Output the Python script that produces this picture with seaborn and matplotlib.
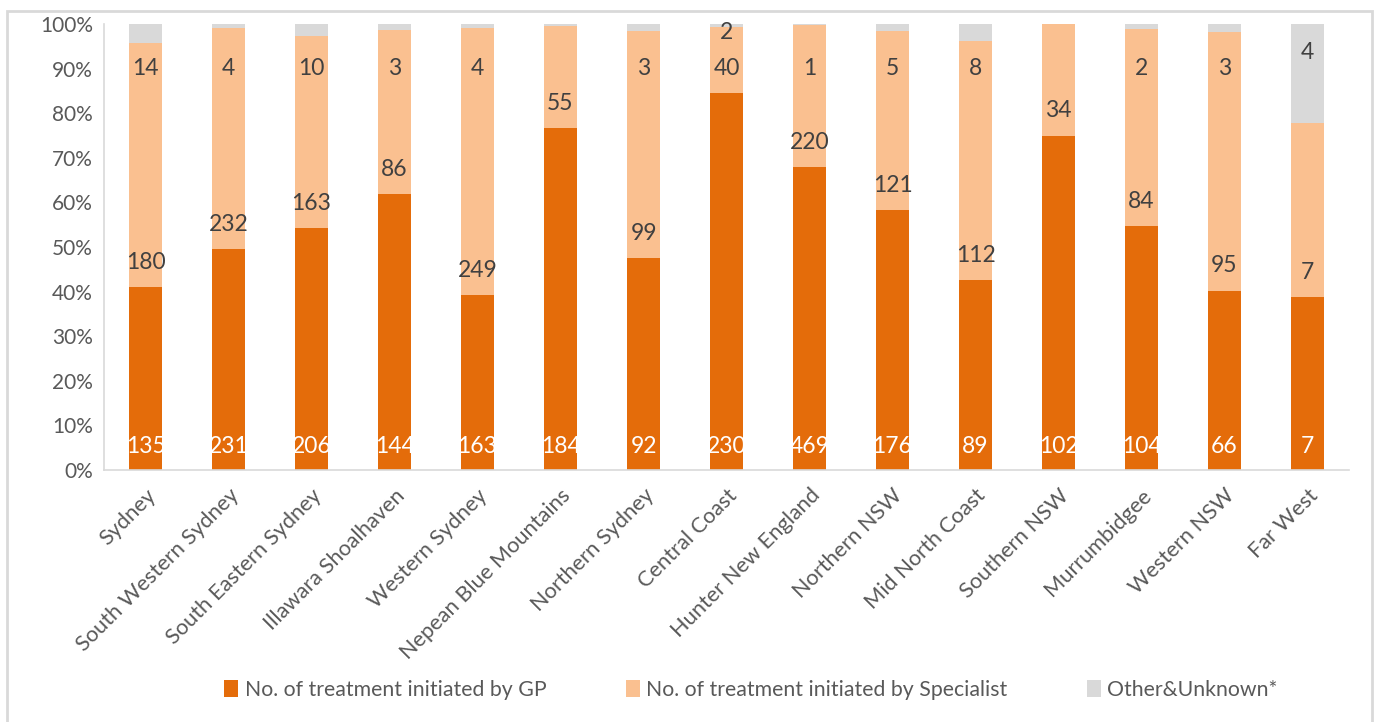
import numpy as np
import pandas as pd
import matplotlib
matplotlib.use("Agg")
import matplotlib.pyplot as plt
from matplotlib.patches import Rectangle, Patch
import seaborn as sns

regions = ["Sydney", "South Western Sydney", "South Eastern Sydney", "Illawara Shoalhaven",
           "Western Sydney", "Nepean Blue Mountains", "Northern Sydney", "Central Coast",
           "Hunter New England", "Northern NSW", "Mid North Coast", "Southern NSW",
           "Murrumbidgee", "Western NSW", "Far West"]
gp = [135, 231, 206, 144, 163, 184, 92, 230, 469, 176, 89, 102, 104, 66, 7]
specialist = [180, 232, 163, 86, 249, 55, 99, 40, 220, 121, 112, 34, 84, 95, 7]
other = [14, 4, 10, 3, 4, 1, 3, 2, 1, 5, 8, 0, 2, 3, 4]
show_other_label = [True, True, True, True, True, False, True, True, True, True, True, False, True, True, True]
series_names = ["No. of treatment initiated by GP", "No. of treatment initiated by Specialist", "Other&Unknown*"]

C_GP = "#E46C0A"
C_SP = "#FAC090"
C_OT = "#D9D9D9"
TXT = "#595959"
LBL = "#404040"

sns.set_theme(style="white")
plt.rcParams["font.family"] = ["Lato", "DejaVu Sans"]

gp_a = np.array(gp, float)
sp_a = np.array(specialist, float)
ot_a = np.array(other, float)
tot = gp_a + sp_a + ot_a
p_gp = gp_a / tot
p_sp = sp_a / tot
p_ot = ot_a / tot

df = pd.DataFrame({"region": regions,
                   "c_all": p_gp + p_sp + p_ot,
                   "c_gs": p_gp + p_sp,
                   "c_g": p_gp})

fig = plt.figure(figsize=(13.75, 7.22), dpi=100)
ax = fig.add_axes([104 / 1375, 1 - 470 / 722, (1349 - 104) / 1375, (470 - 24) / 722])

for col, c in [("c_all", C_OT), ("c_gs", C_SP), ("c_g", C_GP)]:
    sns.barplot(data=df, x="region", y=col, color=c, width=0.4, ax=ax,
                saturation=1, edgecolor="none", linewidth=0)

ax.set_xlim(-0.5, len(regions) - 0.5)
ax.set_ylim(0, 1)
ax.set_xlabel("")
ax.set_ylabel("")
ax.set_yticks(np.arange(0, 1.01, 0.1))
ax.set_yticklabels([f"{int(round(v*100))}%" for v in np.arange(0, 1.01, 0.1)], fontsize=15, color=TXT)
ax.set_xticks(range(len(regions)))
ax.set_xticklabels(regions, rotation=45, ha="right", rotation_mode="anchor", fontsize=15.7, color=TXT)
ax.tick_params(axis="both", length=0, pad=8)
ax.tick_params(axis="x", pad=11)
for s in ["top", "right"]:
    ax.spines[s].set_visible(False)
for s in ["left", "bottom"]:
    ax.spines[s].set_color("#D9D9D9")
    ax.spines[s].set_linewidth(1.2)

fs = 16.5
for i in range(len(regions)):
    ax.text(i, 0.052, str(gp[i]), ha="center", va="center", color="white", fontsize=fs)
    sp_y = p_gp[i] + 0.055
    ax.text(i, sp_y, str(specialist[i]), ha="center", va="center", color=LBL, fontsize=fs)
    if show_other_label[i]:
        if p_ot[i] > 0.15:
            oy = 0.935
        elif abs(sp_y - 0.90) < 0.05:
            oy = 0.98
        else:
            oy = 0.90
        ax.text(i, oy, str(other[i]), ha="center", va="center", color=LBL, fontsize=fs)

handles = [Patch(facecolor=c, edgecolor="none") for c in (C_GP, C_SP, C_OT)]
leg = fig.legend(handles, series_names, loc="center", bbox_to_anchor=(751 / 1375, 1 - 690 / 722),
                 ncol=3, frameon=False, fontsize=15.3, handlelength=0.65, handleheight=0.85,
                 handletextpad=0.3, columnspacing=3.75)
for t in leg.get_texts():
    t.set_color(TXT)

fig.add_artist(Rectangle((7 / 1375, -0.05), (1372 - 7) / 1375, 1 - 11 / 722 + 0.05,
                         transform=fig.transFigure, fill=False, edgecolor="#D9D9D9", linewidth=2))

fig.savefig("out.png", dpi=100, facecolor="white")
